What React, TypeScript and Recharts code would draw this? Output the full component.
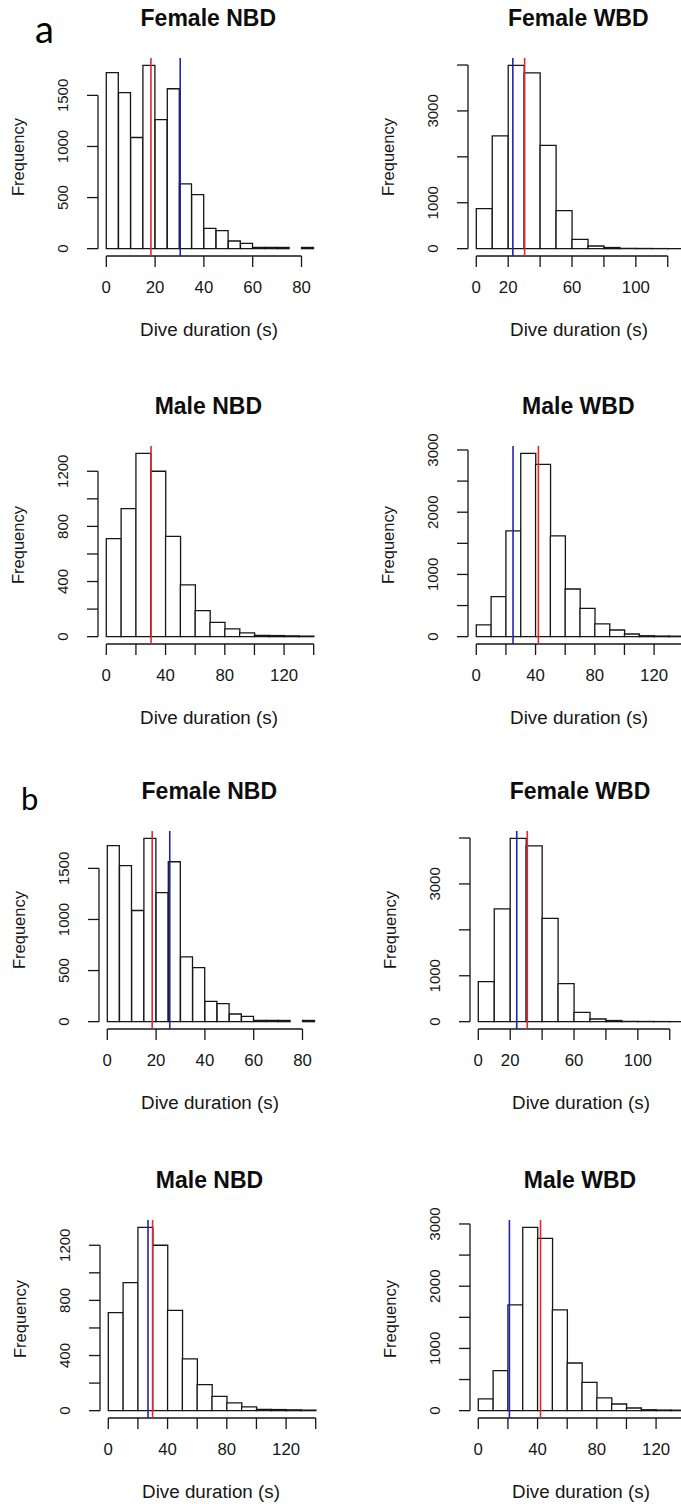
import React from 'react';
import { ComposedChart, Bar, XAxis, YAxis, ReferenceLine } from 'recharts';

// Frequency per bin (same data in panels a and b)
const femaleNbdCounts = [1722, 1526, 1088, 1794, 1262, 1565, 634, 529, 199, 176, 75, 52, 13, 13, 12, 0, 12];
const femaleWbdCounts = [871, 2455, 3993, 3827, 2250, 828, 203, 58, 25, 8, 4, 2, 1];
const maleNbdCounts = [711, 929, 1330, 1200, 728, 375, 189, 104, 56, 27, 10, 8, 6, 4];
const maleWbdCounts = [188, 643, 1699, 2946, 2770, 1619, 766, 455, 204, 107, 43, 15, 10, 8];

// tick positions and the labels R kept
const fnbdXTicks = [0, 20, 40, 60, 80];
const fnbdYTicks = [0, 500, 1000, 1500];
const fwbdXTicks = [0, 20, 40, 60, 80, 100, 120];
const fwbdXLabels = [0, 20, 60, 100];
const fwbdYTicks = [0, 1000, 2000, 3000, 4000];
const fwbdYLabels = [0, 1000, 3000];
const mnbdXTicks = [0, 20, 40, 60, 80, 100, 120, 140];
const mnbdXLabels = [0, 40, 80, 120];
const mnbdYTicks = [0, 200, 400, 600, 800, 1000, 1200];
const mnbdYLabels = [0, 400, 800, 1200];
const mwbdXTicks = [0, 20, 40, 60, 80, 100, 120, 140];
const mwbdXLabels = [0, 40, 80, 120];
const mwbdYTicks = [0, 500, 1000, 1500, 2000, 2500, 3000];
const mwbdYLabels = [0, 1000, 2000, 3000];

// vertical lines (s), panel order: a FNBD, a FWBD, a MNBD, a MWBD, b FNBD, b FWBD, b MNBD, b MWBD
const redLines = [18.3, 30.3, 30.2, 41.9, 18.4, 30.7, 29.9, 42.0];
const blueLines: (number | null)[] = [30.3, 22.9, null, 24.8, 25.6, 24.1, 26.8, 21.0];

const panelTitles = ['Female NBD', 'Female WBD', 'Male NBD', 'Male WBD'];

const specs = [
  { counts: femaleNbdCounts, binWidth: 5, xTicks: fnbdXTicks, xLabels: fnbdXTicks, yTicks: fnbdYTicks, yLabels: fnbdYTicks },
  { counts: femaleWbdCounts, binWidth: 10, xTicks: fwbdXTicks, xLabels: fwbdXLabels, yTicks: fwbdYTicks, yLabels: fwbdYLabels },
  { counts: maleNbdCounts, binWidth: 10, xTicks: mnbdXTicks, xLabels: mnbdXLabels, yTicks: mnbdYTicks, yLabels: mnbdYLabels },
  { counts: maleWbdCounts, binWidth: 10, xTicks: mwbdXTicks, xLabels: mwbdXLabels, yTicks: mwbdYTicks, yLabels: mwbdYLabels },
];

// plot region top-left corners on the page
const plotPos = [
  { left: 98.3, top: 58 },
  { left: 468.3, top: 58 },
  { left: 98.3, top: 445.5 },
  { left: 468.3, top: 445.5 },
  { left: 99.3, top: 831.3 },
  { left: 470, top: 831.3 },
  { left: 99.5, top: 1220 },
  { left: 470, top: 1220 },
];

const PAD_L = 100;
const PAD_T = 60;
const PAD_R = 16;
const PAD_B = 90;
const PLOT_W = 224;
const PLOT_H = 198;
const INK = '#161616';
const RED = '#e3282c';
const BLUE = '#2424aa';
const FONT = '"Liberation Sans", Arial, sans-serif';

const XTick = (props: any) => {
  const { x, y, payload, labels } = props;
  if (!labels.includes(payload.value)) return <g />;
  return (
    <text x={x} y={y + 20} textAnchor="middle" dominantBaseline="central" fontSize={16.8} fill={INK} fontFamily={FONT}>
      {payload.value}
    </text>
  );
};

const YTick = (props: any) => {
  const { x, y, payload, labels } = props;
  if (!labels.includes(payload.value)) return <g />;
  const cx = x - 24;
  return (
    <text x={cx} y={y} transform={`rotate(-90 ${cx} ${y})`} textAnchor="middle" dominantBaseline="central" fontSize={15} fill={INK} fontFamily={FONT}>
      {payload.value}
    </text>
  );
};

const Histogram = ({ idx }: { idx: number }) => {
  const s = specs[idx % 4];
  const pos = plotPos[idx];
  const data = s.counts.map((c, i) => ({ mid: (i + 0.5) * s.binWidth, count: c }));
  const hi = s.counts.length * s.binWidth;
  const xDomain = [-0.04 * hi, 1.04 * hi];
  const maxC = Math.max(...s.counts);
  const yDomain = [-0.04 * maxC, 1.04 * maxC];
  const red = redLines[idx];
  const blue = blueLines[idx];
  return (
    <div style={{ position: 'absolute', left: pos.left - PAD_L, top: pos.top - PAD_T }}>
      <ComposedChart
        width={PAD_L + PLOT_W + PAD_R}
        height={PAD_T + PLOT_H + PAD_B}
        data={data}
        margin={{ top: PAD_T, right: PAD_R, bottom: 0, left: 0 }}
        barCategoryGap={0}
        barGap={0}
      >
        <XAxis
          dataKey="mid"
          type="number"
          domain={xDomain}
          allowDataOverflow
          ticks={s.xTicks}
          interval={0}
          axisLine={false}
          tickLine={{ stroke: INK, strokeWidth: 1.3 }}
          tickSize={11}
          tickMargin={0}
          height={PAD_B}
          tick={(p: any) => <XTick {...p} labels={s.xLabels} />}
          label={(p: any) => {
            const vb = p.viewBox;
            return (
              <text x={vb.x + vb.width / 2 - 1} y={vb.y + 73} textAnchor="middle" dominantBaseline="central" fontSize={18.8} fill={INK} fontFamily={FONT}>
                Dive duration (s)
              </text>
            );
          }}
        />
        <YAxis
          type="number"
          domain={yDomain}
          allowDataOverflow
          ticks={s.yTicks}
          interval={0}
          axisLine={false}
          tickLine={{ stroke: INK, strokeWidth: 1.3 }}
          tickSize={11}
          tickMargin={0}
          width={PAD_L}
          tick={(p: any) => <YTick {...p} labels={s.yLabels} />}
          label={(p: any) => {
            const vb = p.viewBox;
            const cx = vb.x + vb.width - 80.5;
            const cy = vb.y + vb.height / 2;
            return (
              <text x={cx} y={cy} transform={`rotate(-90 ${cx} ${cy})`} textAnchor="middle" dominantBaseline="central" fontSize={16.5} fill={INK} fontFamily={FONT}>
                Frequency
              </text>
            );
          }}
        />
        <Bar dataKey="count" fill="#ffffff" stroke={INK} strokeWidth={1.3} isAnimationActive={false} />
        <ReferenceLine
          segment={[{ x: xDomain[0], y: s.yTicks[0] }, { x: xDomain[0], y: s.yTicks[s.yTicks.length - 1] }]}
          stroke={INK}
          strokeWidth={1.3}
          ifOverflow="visible"
        />
        <ReferenceLine
          segment={[{ x: s.xTicks[0], y: yDomain[0] }, { x: s.xTicks[s.xTicks.length - 1], y: yDomain[0] }]}
          stroke={INK}
          strokeWidth={1.3}
          ifOverflow="visible"
        />
        <ReferenceLine x={red} stroke={RED} strokeWidth={1.6} />
        {blue !== null && <ReferenceLine x={blue} stroke={BLUE} strokeWidth={1.6} />}
      </ComposedChart>
      <div
        style={{
          position: 'absolute',
          left: PAD_L + PLOT_W / 2 - 2,
          top: PAD_T - 40,
          transform: 'translate(-50%, -50%)',
          fontFamily: FONT,
          fontWeight: 'bold',
          fontSize: 23,
          color: '#0d0d0d',
          whiteSpace: 'nowrap',
        }}
      >
        {panelTitles[idx % 4]}
      </div>
    </div>
  );
};

const App = () => {
  return (
    <div style={{ position: 'absolute', left: 0, top: 0, width: 681, height: 1504, overflow: 'hidden', background: '#fff' }}>
      {plotPos.map((_, i) => (
        <Histogram key={i} idx={i} />
      ))}
      <div style={{ position: 'absolute', left: 35, top: 6, fontFamily: 'Lato, "Open Sans", sans-serif', fontSize: 38, lineHeight: '44px', color: '#000' }}>a</div>
      <div style={{ position: 'absolute', left: 21, top: 780, fontFamily: 'Lato, "Open Sans", sans-serif', fontSize: 31, lineHeight: '36px', color: '#000' }}>b</div>
    </div>
  );
};

export default App;
